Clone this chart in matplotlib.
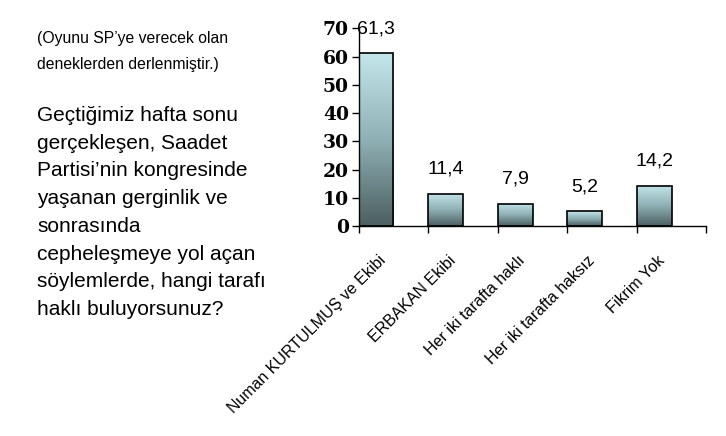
import numpy as np
import matplotlib
matplotlib.use('Agg')
import matplotlib.pyplot as plt
from matplotlib.colors import LinearSegmentedColormap
from matplotlib.transforms import ScaledTranslation

plt.rcParams['font.family'] = ['Liberation Sans', 'DejaVu Sans']

categories = ['Numan KURTULMUŞ ve Ekibi', 'ERBAKAN Ekibi', 'Her iki tarafta haklı',
              'Her iki tarafta haksız', 'Fikrim Yok']
values = [61.3, 11.4, 7.9, 5.2, 14.2]
value_labels = ['61,3', '11,4', '7,9', '5,2', '14,2']
yticks = [0, 10, 20, 30, 40, 50, 60, 70]

note_text = '(Oyunu SP\u2019ye verecek olan\ndeneklerden derlenmiştir.)'
question_text = ('Geçtiğimiz hafta sonu\ngerçekleşen, Saadet\nPartisi\u2019nin kongresinde\n'
                 'yaşanan gerginlik ve\nsonrasında\ncepheleşmeye yol açan\n'
                 'söylemlerde, hangi tarafı\nhaklı buluyorsunuz?')

fig = plt.figure(figsize=(7.26, 4.36), dpi=100)
ax = fig.add_axes([0.494, 0.4817, 0.479, 0.453])

x = np.arange(len(values))
bars = ax.bar(x, values, width=0.5, align='edge', color='none',
              edgecolor='black', linewidth=1.2, zorder=3)

# vertical gradient inside each bar
cmap = LinearSegmentedColormap.from_list('bar', ['#4c5f61', '#8fb0b4', '#c3e6ea'])
grad = np.linspace(0, 1, 256).reshape(-1, 1)
for b in bars:
    x0, y0 = b.get_x(), b.get_y()
    w, h = b.get_width(), b.get_height()
    im = ax.imshow(grad, cmap=cmap, origin='lower', aspect='auto',
                   extent=[x0, x0 + w, y0, y0 + h], zorder=2)
    im.set_clip_path(b)

for xi, v, lab in zip(x, values, value_labels):
    ax.annotate(lab, (xi + 0.25, v), xytext=(0, 11.5), textcoords='offset points',
                ha='center', va='bottom', fontsize=14)

ax.set_xlim(0, len(values))
ax.set_ylim(0, 70)
ax.set_yticks(yticks)
ax.set_yticklabels([str(t) for t in yticks], fontfamily='DejaVu Serif',
                   fontweight='bold', fontsize=13.5)
ax.set_xticks(np.arange(len(values) + 1))
ax.set_xticklabels([])

# category labels, rotated, anchored a bit left of each slot centre
lab_tr = ax.get_xaxis_transform() + ScaledTranslation(-15 / 100, -27 / 100,
                                                       fig.dpi_scale_trans)
for xi, cat in zip(x, categories):
    ax.text(xi + 0.5, 0, cat, transform=lab_tr, rotation=45, ha='right',
            va='top', rotation_mode='anchor', fontsize=11.5)

ax.tick_params(axis='both', which='major', direction='out', length=5, width=1)
ax.tick_params(axis='y', pad=2)
for s in ['top', 'right']:
    ax.spines[s].set_visible(False)
ax.spines['left'].set_linewidth(1)
ax.spines['bottom'].set_linewidth(1)

fig.text(37 / 726, 1 - 31 / 436, note_text, fontsize=11.3, va='top', ha='left',
         linespacing=1.95)
fig.text(37 / 726, 1 - 106 / 436, question_text, fontsize=15, va='top', ha='left',
         linespacing=1.58)

fig.savefig('out.png', dpi=100)
